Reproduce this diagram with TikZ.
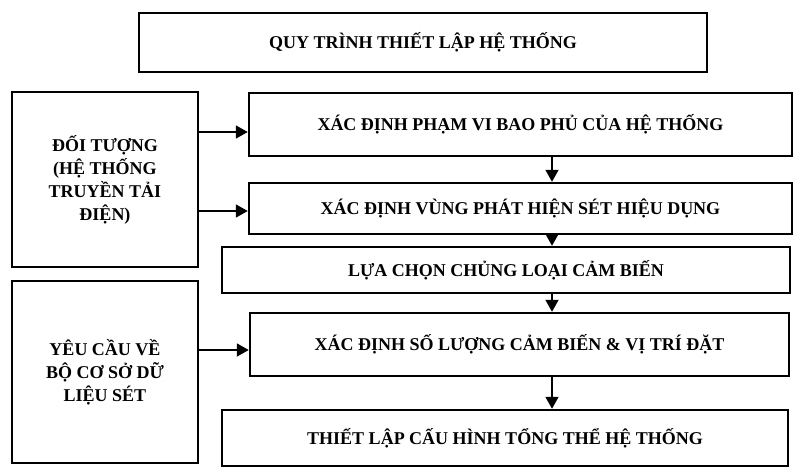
\documentclass[tikz,border=0pt]{standalone}
\usepackage{fontspec}
\setmainfont{Liberation Serif}
\usetikzlibrary{arrows.meta}

\begin{document}
\begin{tikzpicture}[x=1pt, y=-1pt, >={Triangle[length=12pt, width=13pt]},
  stepbox/.style={rectangle, draw, line width=2.5pt, align=center, inner sep=0pt,
    font=\fontsize{18}{23}\selectfont\bfseries},
  link/.style={->, line width=1.8pt}]
  \useasboundingbox (0,0) rectangle (794,466);
  \clip (0,0) rectangle (794,466);
  % title
  \node[stepbox, minimum width=568pt, minimum height=59pt] (title) at (423,42.5) {QUY TRÌNH THIẾT LẬP HỆ THỐNG};
  % inputs on the left
  \node[stepbox, minimum width=186pt, minimum height=175pt] (obj) at (105,179.5) {ĐỐI TƯỢNG\\(HỆ THỐNG\\TRUYỀN TẢI\\ĐIỆN)};
  \node[stepbox, minimum width=186pt, minimum height=182pt] (req) at (105,372) {YÊU CẦU VỀ\\BỘ CƠ SỞ DỮ\\LIỆU SÉT};
  % main steps
  \node[stepbox, minimum width=543pt, minimum height=63pt] (range) at (520.5,124.5) {XÁC ĐỊNH PHẠM VI BAO PHỦ CỦA HỆ THỐNG};
  \node[stepbox, minimum width=543pt, minimum height=51pt] (zone) at (520.5,208.5) {XÁC ĐỊNH VÙNG PHÁT HIỆN SÉT HIỆU DỤNG};
  \node[stepbox, minimum width=568pt, minimum height=46pt] (sensor) at (506,270) {LỰA CHỌN CHỦNG LOẠI CẢM BIẾN};
  \node[stepbox, minimum width=539pt, minimum height=63pt] (count) at (519.5,344.5) {XÁC ĐỊNH SỐ LƯỢNG CẢM BIẾN \& VỊ TRÍ ĐẶT};
  \node[stepbox, minimum width=566pt, minimum height=56pt] (config) at (505,438) {THIẾT LẬP CẤU HÌNH TỔNG THỂ HỆ THỐNG};
  % arrows
  \coordinate (col) at (552,0);
  \draw[link] (range.south -| col) -- (zone.north -| col);
  \draw[link] (zone.south -| col) -- (sensor.north -| col);
  \draw[link] (sensor.south -| col) -- (count.north -| col);
  \draw[link] (count.south -| col) -- (config.north -| col);
  \draw[link] ([yshift=-7.5pt]obj.east |- range.west) -- ([yshift=-7.5pt]range.west);
  \draw[link] ([yshift=-2.5pt]obj.east |- zone.west) -- ([yshift=-2.5pt]zone.west);
  \draw[link] ([yshift=-5.5pt]req.east |- count.west) -- ([yshift=-5.5pt]count.west);
\end{tikzpicture}
\end{document}
